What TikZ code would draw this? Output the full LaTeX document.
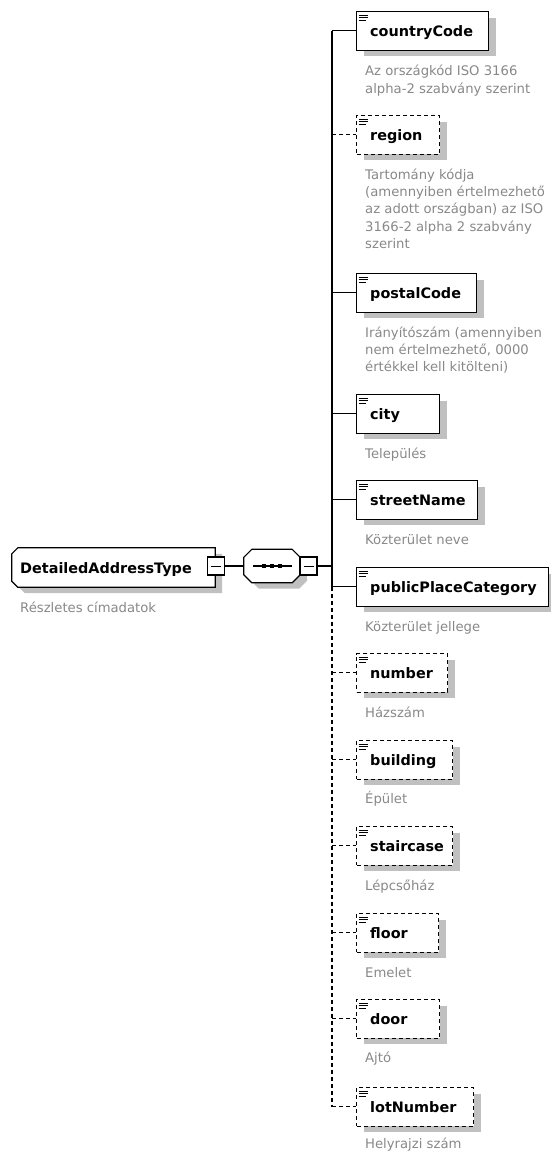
\documentclass[tikz,border=0pt]{standalone}
\usepackage{fontspec}
\setmainfont{DejaVu Sans}
\usetikzlibrary{shadows}
\definecolor{shadowc}{RGB}{192,192,192}
\definecolor{desccol}{RGB}{136,136,136}
\tikzset{
  sh/.style={drop shadow={shadow xshift=7pt,shadow yshift=-6pt,fill=shadowc,opacity=1}},
  elbox/.style={draw,line width=1.2pt,fill=white,rectangle,inner sep=0pt,anchor=north west,
    minimum height=38.5pt,sh},
  optbox/.style={elbox,dash pattern=on 4pt off 3pt},
  optline/.style={line width=1.2pt,dash pattern=on 4pt off 3pt},
  conn/.style={line width=1.2pt},
  outline/.style={draw,line width=1.2pt,fill=white,sh},
  frame/.style={rectangle,inner sep=0pt},
  lbl/.style={anchor=base west,inner sep=0pt,font=\bfseries\fontsize{14.4}{17}\selectfont},
  desc/.style={anchor=base west,inner sep=0pt,align=left,text=desccol,font=\fontsize{13.2}{17.3}\selectfont},
  minusbox/.style={draw,line width=1.2pt,fill=white,rectangle,inner sep=0pt,minimum width=17pt,minimum height=18pt},
  icon/.style={line width=0.9pt}
}
\newcommand{\elicon}[1]{%
  \draw[icon] ([shift={(2.5,4)}]#1.north west) -- ++(9,0);
  \draw[icon] ([shift={(2.5,6.5)}]#1.north west) -- ++(9,0);
  \draw[icon] ([shift={(2.5,9)}]#1.north west) -- ++(7,0);}
\begin{document}
\begin{tikzpicture}[x=1pt,y=-1pt]
\useasboundingbox (0,0) rectangle (550,1151);
\coordinate (bus) at (332,0);

% root (chamfered on the left)
\node[frame,minimum width=203pt,minimum height=39pt] (root) at (113.5,567.5) {};
\path[outline] ([shift={(6,0)}]root.north west) -- (root.north east) -- (root.south east)
  -- ([shift={(6,0)}]root.south west) -- ([shift={(0,-6)}]root.south west)
  -- ([shift={(0,6)}]root.north west) -- cycle;
\node[lbl] (rootl) at (20,573) {DetailedAddressType};
\node[desc] (rootd) at (20,612) {Részletes címadatok};
\node[minusbox] (rm) at (216,566) {};
\draw[line width=1pt] ([xshift=-5pt]rm.center) -- ([xshift=5pt]rm.center);

% sequence (octagon)
\node[frame,minimum width=56pt,minimum height=33pt] (seq) at (272,566) {};
\path[outline] ([shift={(8,0)}]seq.north west) -- ([shift={(-8,0)}]seq.north east)
  -- ([shift={(0,8)}]seq.north east) -- ([shift={(0,-8)}]seq.south east)
  -- ([shift={(-8,0)}]seq.south east) -- ([shift={(8,0)}]seq.south west)
  -- ([shift={(0,-8)}]seq.south west) -- ([shift={(0,8)}]seq.north west) -- cycle;
\draw[line width=1.2pt] ([xshift=-19pt]seq.center) -- ([xshift=20pt]seq.center);
\fill ([shift={(-10,-2)}]seq.center) rectangle ++(4,4);
\fill ([shift={(-2,-2)}]seq.center) rectangle ++(4,4);
\fill ([shift={(6,-2)}]seq.center) rectangle ++(4,4);
\node[minusbox] (sm) at (308.5,566) {};
\draw[line width=1pt] ([xshift=-5pt]sm.center) -- ([xshift=5pt]sm.center);
\draw[conn] (rm.east) -- (seq.west);
\draw[conn] (sm.east) -- (sm.east -| bus);

% children
\node[elbox,minimum width=132pt] (cc) at (356,11) {};
\node[optbox,minimum width=83pt] (region) at (356,115) {};
\node[elbox,minimum width=120pt] (postal) at (356,273) {};
\node[elbox,minimum width=83pt] (city) at (356,394) {};
\node[elbox,minimum width=121pt] (street) at (356,480) {};
\node[elbox,minimum width=192pt] (ppc) at (356,567) {};
\node[optbox,minimum width=91pt] (number) at (356,653) {};
\node[optbox,minimum width=96pt] (building) at (356,740) {};
\node[optbox,minimum width=96pt] (stair) at (356,826) {};
\node[optbox,minimum width=82pt] (floor) at (356,913) {};
\node[optbox,minimum width=83pt] (door) at (356,999) {};
\node[optbox,minimum width=117pt] (lot) at (356,1087) {};

\foreach \n in {cc,region,postal,city,street,ppc,number,building,stair,floor,door,lot}{\elicon{\n}}

% bus
\draw[conn] (cc.west -| bus) -- (ppc.west -| bus);
\draw[optline] (ppc.west -| bus) -- (lot.west -| bus);
\foreach \n in {cc,postal,city,street,ppc}{\draw[conn] (\n.west -| bus) -- (\n.west);}
\foreach \n in {region,number,building,stair,floor,door,lot}{\draw[optline] (\n.west -| bus) -- (\n.west);}

% labels
\node[lbl] (ccl) at ([shift={(14,5.5)}]cc.west) {countryCode};
\node[lbl] (regionl) at ([shift={(14,5.5)}]region.west) {region};
\node[lbl] (postall) at ([shift={(14,5.5)}]postal.west) {postalCode};
\node[lbl] (cityl) at ([shift={(14,5.5)}]city.west) {city};
\node[lbl] (streetl) at ([shift={(14,5.5)}]street.west) {streetName};
\node[lbl] (ppcl) at ([shift={(14,5.5)}]ppc.west) {publicPlaceCategory};
\node[lbl] (numberl) at ([shift={(14,5.5)}]number.west) {number};
\node[lbl] (buildingl) at ([shift={(14,5.5)}]building.west) {building};
\node[lbl] (stairl) at ([shift={(14,5.5)}]stair.west) {staircase};
\node[lbl] (floorl) at ([shift={(14,5.5)}]floor.west) {floor};
\node[lbl] (doorl) at ([shift={(14,5.5)}]door.west) {door};
\node[lbl] (lotl) at ([shift={(14,5.5)}]lot.west) {lotNumber};

% descriptions (base anchor = last line baseline)
\node[desc] (ccd) at ([shift={(9,42.3)}]cc.south west) {Az országkód ISO 3166\\alpha-2 szabvány szerint};
\node[desc] (regiond) at ([shift={(9,93.7)}]region.south west) {Tartomány kódja\\(amennyiben értelmezhető\\az adott országban) az ISO\\3166-2 alpha 2 szabvány\\szerint};
\node[desc] (postald) at ([shift={(9,59.1)}]postal.south west) {Irányítószám (amennyiben\\nem értelmezhető, 0000\\értékkel kell kitölteni)};
\node[desc] (cityd) at ([shift={(9,24.5)}]city.south west) {Település};
\node[desc] (streetd) at ([shift={(9,25)}]street.south west) {Közterület neve};
\node[desc] (ppcd) at ([shift={(9,24.5)}]ppc.south west) {Közterület jellege};
\node[desc] (numberd) at ([shift={(9,24.5)}]number.south west) {Házszám};
\node[desc] (buildingd) at ([shift={(9,24)}]building.south west) {Épület};
\node[desc] (staird) at ([shift={(9,24.5)}]stair.south west) {Lépcsőház};
\node[desc] (floord) at ([shift={(9,24.5)}]floor.south west) {Emelet};
\node[desc] (doord) at ([shift={(9,24)}]door.south west) {Ajtó};
\node[desc] (lotd) at ([shift={(9,21.5)}]lot.south west) {Helyrajzi szám};
\end{tikzpicture}
\end{document}
